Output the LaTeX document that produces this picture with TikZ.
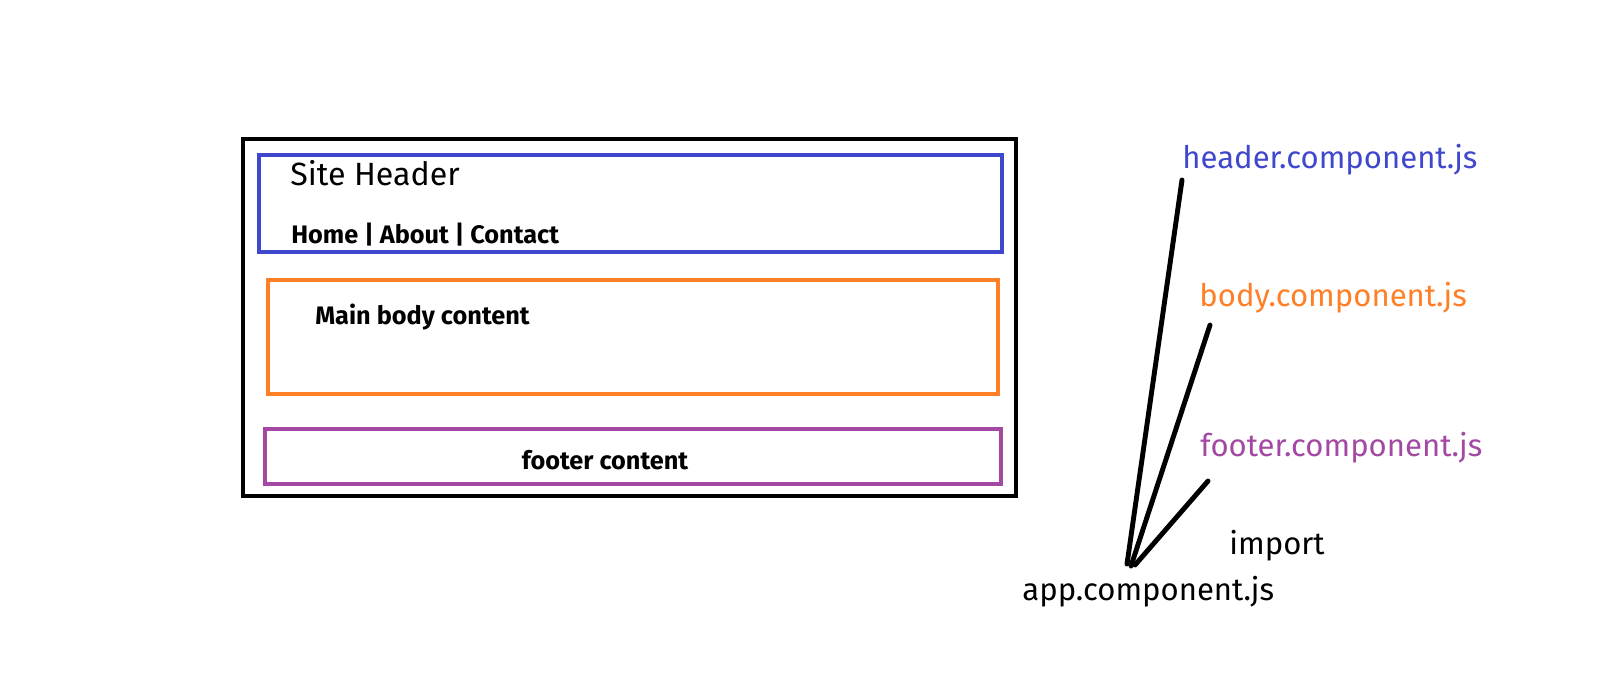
\documentclass[tikz,border=0pt]{standalone}
\usepackage{fontspec}
\setmainfont{Fira Sans}
\usetikzlibrary{positioning}
\definecolor{paintblue}{HTML}{3F48CC}
\definecolor{paintorange}{HTML}{FF7F27}
\definecolor{paintpurple}{HTML}{A349A4}
\begin{document}
\begin{tikzpicture}[
        x=0.02cm, y=-0.02cm,
        pagebox/.style={draw=black, line width=2.8pt},
        partbox/.style={line width=2.3pt},
        boldtext/.style={font=\fontsize{14.4}{17}\selectfont\bfseries, anchor=west, inner sep=0pt},
        filetext/.style={font=\fontsize{17.7}{21}\selectfont, anchor=west, inner sep=0pt},
        wire/.style={line width=2.8pt, line cap=round},
        ]
        \useasboundingbox (0,0) rectangle (1612,698);

        % Boxes
        \draw[pagebox] (243,139) rectangle (1016,496);
        \draw[partbox, draw=paintblue] (259,155) rectangle (1002,252);
        \draw[partbox, draw=paintorange] (268,280) rectangle (998,394);
        \draw[partbox, draw=paintpurple] (265,429) rectangle (1001,484);

        % Nodes
        \node[filetext, font=\fontsize{18.3}{22}\selectfont] (site) at (290,173) {Site Header};
        \node[boldtext] (menu) at (291,235) {Home | About | Contact};
        \node[boldtext] (main) at (315,317) {Main body content};
        \node[boldtext, anchor=center] (foot) at (605,460) {footer content};

        \node[filetext, text=paintblue] (hdrjs) at (1182,160) {header.component.js};
        \node[filetext, text=paintorange] (bodyjs) at (1199,298) {body.component.js};
        \node[filetext, text=paintpurple] (footjs) at (1200,448) {footer.component.js};
        \node[filetext] (imp) at (1229,546) {import};
        \node[filetext] (appjs) at (1022,592) {app.component.js};

        % Line ends
        \coordinate (a1) at (1127,564);
        \coordinate (a2) at (1131,566);
        \coordinate (a3) at (1135,565);
        \coordinate (h1) at (1182,180);
        \coordinate (b1) at (1210,325);
        \coordinate (f1) at (1208,481);

        % app imports the three parts
        \draw[wire] (a1) -- (h1);
        \draw[wire] (a2) -- (b1);
        \draw[wire] (a3) -- (f1);

    \end{tikzpicture}
\end{document}
